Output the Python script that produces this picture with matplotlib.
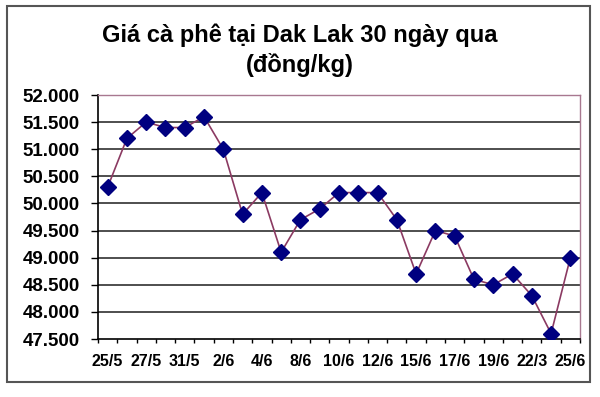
import matplotlib.pyplot as plt
import numpy as np
from matplotlib.patches import Rectangle
from matplotlib.ticker import FuncFormatter

plt.rcParams['font.family'] = ['Liberation Sans', 'DejaVu Sans']
plt.rcParams['font.weight'] = 'bold'

# gia ca phe (dong/kg), 25 ngay
prices = [50300, 51200, 51500, 51400, 51400, 51600, 51000, 49800, 50200, 49100,
          49700, 49900, 50200, 50200, 50200, 49700, 48700, 49500, 49400, 48600,
          48500, 48700, 48300, 47600, 49000]
date_labels = ['25/5', '27/5', '31/5', '2/6', '4/6', '8/6', '10/6', '12/6',
               '15/6', '17/6', '19/6', '22/3', '25/6']
y_ticks = [47500, 48000, 48500, 49000, 49500, 50000, 50500, 51000, 51500, 52000]

title1 = 'Giá cà phê tại Dak Lak 30 ngày qua'
title2 = '(đồng/kg)'

fig = plt.figure(figsize=(6, 3.97), dpi=100)
ax = fig.add_axes([98/600, 1-339/397, 482/600, 244/397])

x = np.arange(len(prices))
ax.plot(x, prices, color='#8b3a62', linewidth=1.2, zorder=3)
ax.plot(x, prices, linestyle='none', marker='D', markersize=8.5,
        color='#000080', zorder=4)

ax.set_xlim(-0.5, len(prices)-0.5)
ax.set_ylim(y_ticks[0], y_ticks[-1])

ax.set_yticks(y_ticks)
ax.yaxis.set_major_formatter(FuncFormatter(lambda v, p: f'{v:,.0f}'.replace(',', '.')))
ax.tick_params(axis='y', length=5, width=1, pad=8, labelsize=13.5, color='k')
for v in y_ticks[1:]:
    ax.axhline(v, color='#303030', linewidth=1.2, zorder=1)

# category boundaries = major ticks, labels on every other category
ax.set_xticks(np.arange(-0.5, len(prices)))
ax.set_xticklabels([])
ax.set_xticks(x[::2], minor=True)
ax.set_xticklabels(date_labels, minor=True)
ax.tick_params(axis='x', which='major', length=3, width=1, color='k')
ax.tick_params(axis='x', which='minor', length=0, pad=11, labelsize=11.5)

ax.spines['left'].set_color('k')
ax.spines['bottom'].set_color('k')
ax.spines['left'].set_linewidth(1.2)
ax.spines['bottom'].set_linewidth(1.2)
ax.spines['top'].set_color('#a87890')
ax.spines['right'].set_color('#a87890')
ax.spines['top'].set_linewidth(1)
ax.spines['right'].set_linewidth(1)

fig.text(0.5, 1-42/397, title1, ha='center', va='baseline', fontsize=17, fontweight='bold')
fig.text(0.5, 1-72/397, title2, ha='center', va='baseline', fontsize=17, fontweight='bold')

fig.patches.append(Rectangle((7/600, 1-382/397), 583/600, 376/397,
                             transform=fig.transFigure, fill=False,
                             edgecolor='#555555', linewidth=1.5))

fig.savefig('out.png', dpi=100)
